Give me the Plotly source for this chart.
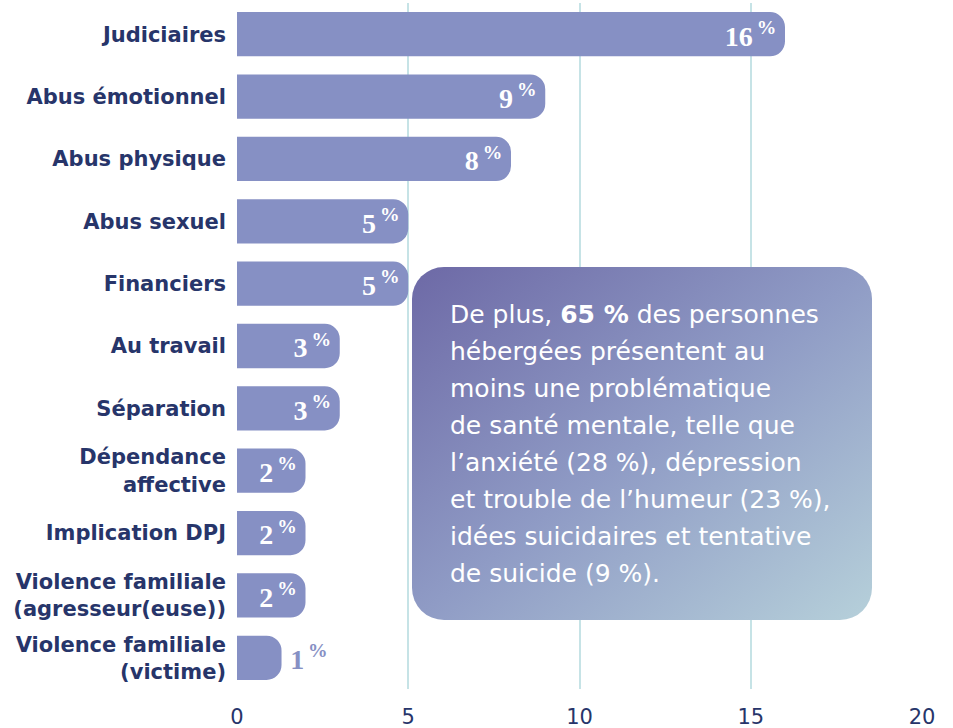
import base64
import plotly.graph_objects as go

categories = [
    "Judiciaires", "Abus émotionnel", "Abus physique", "Abus sexuel",
    "Financiers", "Au travail", "Séparation", "Dépendance<br>affective",
    "Implication DPJ", "Violence familiale<br>(agresseur(euse))",
    "Violence familiale<br>(victime)",
]
values = [16, 9, 8, 5, 5, 3, 3, 2, 2, 2, 1.3]
shown_pct = [16, 9, 8, 5, 5, 3, 3, 2, 2, 2, 1]
x_ticks = [0, 5, 10, 15, 20]

note_lines = [
    "De plus, <b>65 %</b> des personnes",
    "hébergées présentent au",
    "moins une problématique",
    "de santé mentale, telle que",
    "l’anxiété (28 %), dépression",
    "et trouble de l’humeur (23 %),",
    "idées suicidaires et tentative",
    "de suicide (9 %).",
]

BAR = "#8690c4"
NAVY = "#27356a"
GRID = "#c6e3e6"
LABEL_FONT = "DejaVu Sans"

W, H = 953, 728
ML, MR, MT, MB = 237, 31, 3, 39
PW, PH = W - ML - MR, H - MT - MB

def px_x(p):
    return (p - ML) / PW

def px_y(p):
    return (H - MB - p) / PH

n = len(values)
texts = []
positions = []
for i, v in enumerate(shown_pct):
    if i == n - 1:
        texts.append(f"\u2009{v}<sup>\u2009%</sup>")
        positions.append("outside")
    else:
        texts.append(f"{v}<sup>\u2009%</sup>")
        positions.append("inside")

fig = go.Figure(go.Bar(
    x=values, y=categories, orientation="h",
    marker=dict(color=BAR, cornerradius=15, line=dict(width=0)),
    text=texts, textposition=positions, insidetextanchor="end",
    insidetextfont=dict(family="Liberation Serif", size=28, color="white", weight="bold"),
    outsidetextfont=dict(family="Liberation Serif", size=28, color=BAR, weight="bold"),
    constraintext="none", cliponaxis=False, hoverinfo="skip",
))

# gradient note box as svg image
bx0, bx1, by0, by1 = 412, 872, 267, 620
bw, bh = bx1 - bx0, by1 - by0
svg = f'''<svg xmlns="http://www.w3.org/2000/svg" width="{bw}" height="{bh}" viewBox="0 0 {bw} {bh}">
<defs><linearGradient id="g" x1="0" y1="0" x2="1" y2="1">
<stop offset="0" stop-color="#6d69a6"/><stop offset="0.5" stop-color="#8f9bc5"/><stop offset="1" stop-color="#b6d0da"/>
</linearGradient></defs>
<rect x="0" y="0" width="{bw}" height="{bh}" rx="32" ry="32" fill="url(#g)"/></svg>'''
src = "data:image/svg+xml;base64," + base64.b64encode(svg.encode()).decode()

fig.add_layout_image(dict(
    source=src, xref="paper", yref="paper",
    x=px_x(bx0), y=px_y(by0), sizex=bw / PW, sizey=bh / PH,
    xanchor="left", yanchor="top", sizing="stretch", layer="above",
))

for k, line in enumerate(note_lines):
    fig.add_annotation(
        text=line, xref="paper", yref="paper",
        x=px_x(448), y=px_y(314 + 37.1 * k), xanchor="left", yanchor="middle",
        showarrow=False, align="left",
        font=dict(family=LABEL_FONT, size=25, color="white"),
    )

fig.update_layout(
    width=W, height=H, margin=dict(l=ML, r=MR, t=MT, b=MB, autoexpand=False),
    paper_bgcolor="white", plot_bgcolor="white",
    bargap=0.29, showlegend=False,
    xaxis=dict(range=[0, 20], tickvals=x_ticks, showgrid=True, gridcolor=GRID,
               gridwidth=2, zeroline=False, showline=False, automargin=False,
               ticks="outside", ticklen=9, tickcolor="rgba(0,0,0,0)",
               tickfont=dict(family=LABEL_FONT, size=21, color=NAVY)),
    yaxis=dict(autorange="reversed", showgrid=False, zeroline=False, showline=False,
               ticklabelstandoff=10, automargin=False,
               tickfont=dict(family=LABEL_FONT, size=21, color=NAVY, weight="bold")),
)

fig.write_html("out.html", config={"displayModeBar": False},
               post_script="document.body.style.margin='0';")
